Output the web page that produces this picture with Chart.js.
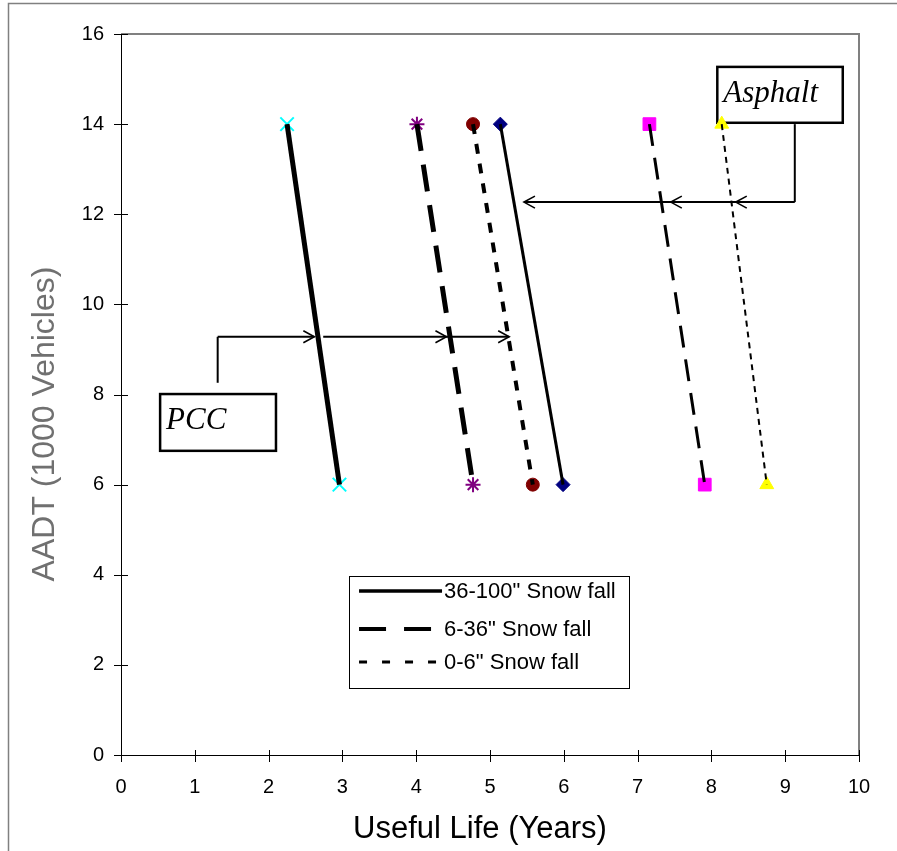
<!DOCTYPE html>
<html>
<head>
<meta charset="utf-8">
<script src="https://cdn.jsdelivr.net/npm/chart.js@4/dist/chart.umd.min.js"></script>
<style>
  html, body { margin: 0; padding: 0; background: #fff; }
  canvas { display: block; }
</style>
</head>
<body>
<canvas id="lifeChart" width="897" height="851"></canvas>
<script>
// AADT (1000 vehicles) at the two ends of every line
const aadt = [14, 6]

// useful life (years), same order as aadt
const pccHeavy = [2.25, 2.96]
const pccMedium = [4.01, 4.77]
const pccLight = [4.77, 5.58]
const asphaltHeavy = [5.14, 5.99]
const asphaltMedium = [7.16, 7.91]
const asphaltLight = [8.14, 8.75]

const xTicks = [0, 1, 2, 3, 4, 5, 6, 7, 8, 9, 10]
const yTicks = [0, 2, 4, 6, 8, 10, 12, 14, 16]
const legendLabels = ['36-100" Snow fall', '6-36" Snow fall', '0-6" Snow fall']

const FONT = '"Liberation Sans", Arial, sans-serif'
const SERIF = '"Liberation Serif", "Times New Roman", serif'

const series = [
  { x: pccHeavy, color: '#00ffff', marker: 'crossRot', radius: 9.5, pw: 2, width: 5, dash: [] },
  { x: pccMedium, color: '#800080', marker: 'star', radius: 7.5, pw: 2, width: 5, dash: [27, 14] },
  { x: pccLight, color: '#800000', marker: 'circle', radius: 6.5, pw: 1, width: 4, dash: [10, 10] },
  { x: asphaltHeavy, color: '#000080', marker: 'rectRot', radius: 7, pw: 1, width: 3, dash: [] },
  { x: asphaltMedium, color: '#ff00ff', marker: 'rect', radius: 9, pw: 1, width: 3, dash: [22, 12] },
  { x: asphaltLight, color: '#ffff00', marker: 'triangle', radius: 8, pw: 1, width: 2, dash: [6, 5] }
]

const datasets = []
series.forEach(s => {
  const pts = s.x.map((v, i) => ({ x: v, y: aadt[i] }))
  // line goes on top of the markers, like the original
  datasets.push({
    data: pts, showLine: true, borderColor: '#000', borderWidth: s.width,
    borderDash: s.dash, pointRadius: 0, order: 1
  })
  datasets.push({
    data: pts, showLine: false, pointStyle: s.marker, pointRadius: s.radius,
    backgroundColor: s.color, borderColor: s.color, pointBorderWidth: s.pw, order: 2
  })
})

// legend samples
const legendDash = [[], [27, 18], [8, 15]]
const legendWidth = [3.5, 4, 3]

// callouts, in data units
const pccNote = { box: [0.53, 8.01, 2.10, 6.75], text: 'PCC', leader: [1.31, 8.26, 9.28],
  runs: [[1.31, 2.62], [2.74, 5.26]], heads: [2.62, 4.41, 5.26], dir: 1 }
const asphaltNote = { box: [8.08, 15.27, 9.78, 14.03], text: 'Asphalt', leader: [9.13, 14.0, 12.27],
  runs: [[9.13, 5.46]], heads: [8.33, 7.45, 5.46], dir: -1 }

function drawNote(ctx, xs, ys, n) {
  const [bx1, by1, bx2, by2] = n.box
  const l = xs.getPixelForValue(bx1), t = ys.getPixelForValue(by1)
  const r = xs.getPixelForValue(bx2), b = ys.getPixelForValue(by2)
  ctx.save()
  ctx.fillStyle = '#fff'
  ctx.fillRect(l, t, r - l, b - t)
  ctx.strokeStyle = '#000'
  ctx.lineWidth = 2.5
  ctx.strokeRect(l, t, r - l, b - t)
  ctx.fillStyle = '#000'
  ctx.font = 'italic 31px ' + SERIF
  ctx.textBaseline = 'alphabetic'
  ctx.fillText(n.text, l + 6, t + 35)

  ctx.lineWidth = 2
  const lx = xs.getPixelForValue(n.leader[0])
  const arrowY = ys.getPixelForValue(n.leader[2])
  ctx.beginPath()
  ctx.moveTo(lx, ys.getPixelForValue(n.leader[1]))
  ctx.lineTo(lx, arrowY)
  ctx.stroke()
  n.runs.forEach(([a, c]) => {
    ctx.beginPath()
    ctx.moveTo(xs.getPixelForValue(a), arrowY)
    ctx.lineTo(xs.getPixelForValue(c), arrowY)
    ctx.stroke()
  })
  ctx.lineWidth = 1.6
  n.heads.forEach(h => {
    const hx = xs.getPixelForValue(h)
    ctx.beginPath()
    ctx.moveTo(hx - n.dir * 11, arrowY - 6)
    ctx.lineTo(hx, arrowY)
    ctx.lineTo(hx - n.dir * 11, arrowY + 6)
    ctx.stroke()
  })
  ctx.restore()
}

const decor = {
  id: 'decor',
  beforeDraw(chart) {
    const ctx = chart.ctx
    ctx.save()
    ctx.strokeStyle = '#808080'
    ctx.lineWidth = 1.5
    ctx.beginPath()
    ctx.moveTo(8.5, chart.height)
    ctx.lineTo(8.5, 3.5)
    ctx.lineTo(chart.width, 3.5)
    ctx.stroke()
    ctx.restore()
  },
  beforeDatasetsDraw(chart) {
    const ctx = chart.ctx
    const a = chart.chartArea
    const xs = chart.scales.x, ys = chart.scales.y
    ctx.save()
    // grey plot-area frame, top and right
    ctx.strokeStyle = '#808080'
    ctx.lineWidth = 2
    ctx.beginPath()
    ctx.moveTo(a.left, a.top)
    ctx.lineTo(a.right, a.top)
    ctx.lineTo(a.right, a.bottom)
    ctx.stroke()
    // tick marks crossing the axes
    ctx.strokeStyle = '#000'
    ctx.lineWidth = 1
    yTicks.forEach(v => {
      const py = Math.round(ys.getPixelForValue(v)) + 0.5
      ctx.beginPath(); ctx.moveTo(a.left - 7, py); ctx.lineTo(a.left + 7, py); ctx.stroke()
    })
    xTicks.forEach(v => {
      const px = Math.round(xs.getPixelForValue(v)) + 0.5
      ctx.beginPath(); ctx.moveTo(px, a.bottom - 5); ctx.lineTo(px, a.bottom + 7); ctx.stroke()
    })
    ctx.restore()

    drawNote(ctx, xs, ys, pccNote)
    drawNote(ctx, xs, ys, asphaltNote)

    // legend box
    const l = xs.getPixelForValue(3.09), t = ys.getPixelForValue(3.97)
    const r = xs.getPixelForValue(6.88), b = ys.getPixelForValue(1.49)
    ctx.save()
    ctx.fillStyle = '#fff'
    ctx.fillRect(l, t, r - l, b - t)
    ctx.strokeStyle = '#000'
    ctx.lineWidth = 1
    ctx.strokeRect(Math.round(l) + 0.5, Math.round(t) + 0.5, Math.round(r - l), Math.round(b - t))
    const rows = [t + 15, t + 53, t + 86]
    ctx.font = '22px ' + FONT
    ctx.textBaseline = 'middle'
    legendLabels.forEach((lab, i) => {
      ctx.setLineDash(legendDash[i])
      ctx.lineWidth = legendWidth[i]
      ctx.beginPath()
      ctx.moveTo(l + 10, rows[i])
      ctx.lineTo(l + 93, rows[i])
      ctx.stroke()
      ctx.fillStyle = '#000'
      ctx.fillText(lab, l + 95, rows[i] + 1)
    })
    ctx.restore()
  },
  afterDraw(chart) {
    const ctx = chart.ctx
    ctx.save()
    ctx.fillStyle = '#000'
    ctx.font = '31px ' + FONT
    ctx.textAlign = 'center'
    ctx.textBaseline = 'alphabetic'
    ctx.fillText('Useful Life (Years)', 480, 838)
    ctx.translate(45, 424)
    ctx.rotate(-Math.PI / 2)
    ctx.fillStyle = '#707070'
    ctx.font = '32px ' + FONT
    ctx.textBaseline = 'middle'
    ctx.fillText('AADT (1000 Vehicles)', 0, 0)
    ctx.restore()
  }
}

new Chart(document.getElementById('lifeChart'), {
  type: 'scatter',
  data: { datasets },
  options: {
    responsive: false,
    animation: false,
    layout: { padding: { left: 0, top: 34, right: 38, bottom: 0 } },
    plugins: { legend: { display: false }, tooltip: { enabled: false } },
    scales: {
      x: {
        type: 'linear', min: 0, max: 10,
        afterFit: s => { s.height = 96 },
        afterBuildTicks: s => { s.ticks = xTicks.map(v => ({ value: v })) },
        grid: { display: false, drawTicks: false },
        border: { display: true, color: '#000', width: 1 },
        ticks: { color: '#000', font: { family: FONT, size: 20 }, padding: 20 }
      },
      y: {
        type: 'linear', min: 0, max: 16,
        afterFit: s => { s.width = 121 },
        afterBuildTicks: s => { s.ticks = yTicks.map(v => ({ value: v })) },
        grid: { display: false, drawTicks: false },
        border: { display: true, color: '#000', width: 1 },
        ticks: { color: '#000', font: { family: FONT, size: 20 }, padding: 17 }
      }
    }
  },
  plugins: [decor]
})
</script>
</body>
</html>
